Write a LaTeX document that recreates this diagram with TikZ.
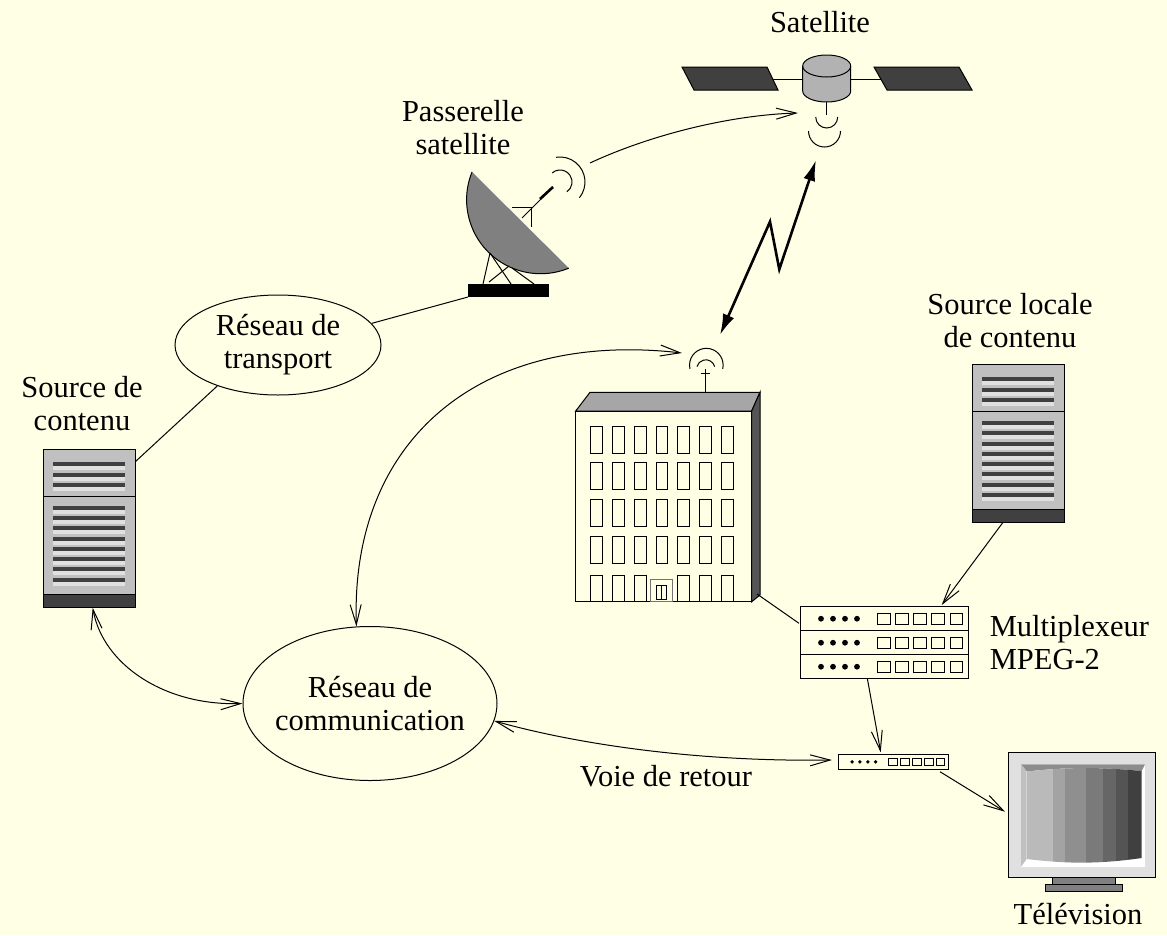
\documentclass[tikz,border=0pt]{standalone}
\usepackage{fontspec}
\setmainfont{Liberation Serif}
\usetikzlibrary{arrows.meta,shapes.geometric}

\definecolor{fond}{RGB}{255,255,230}
\definecolor{grisfonce}{RGB}{64,64,64}
\definecolor{grisclair}{RGB}{224,224,224}
\definecolor{grisboitier}{RGB}{192,192,192}
\definecolor{grissat}{RGB}{178,178,178}
\definecolor{grisparab}{RGB}{128,128,128}
\definecolor{gristoit}{RGB}{166,166,166}
\definecolor{grismur}{RGB}{85,85,85}

\tikzset{
  fleche/.style={-{Straight Barb[length=20pt,width=11pt]}},
  dfleche/.style={{Straight Barb[length=20pt,width=11pt]}-{Straight Barb[length=20pt,width=11pt]}},
  radio/.style={line width=2.6pt,{Latex[length=21pt,width=12pt]}-{Latex[length=21pt,width=12pt]}},
  reseau/.style={ellipse,draw,align=center,inner ysep=0pt},
  % serveur vu de face, coin haut gauche en (0,0)
  serveur/.pic={
    \filldraw[fill=grisboitier] (0,0) rectangle (92,-158.5);
    \draw (0,-47) -- (92,-47);
    \foreach \y in {13,23.5,34,56.7,67,77.2,87.5,97.7,108,118.2,128.5} {
      \fill[grisfonce] (9.5,-\y) rectangle (81.5,-\y-4);
      \fill[grisclair] (9.5,-\y-4) rectangle (81.5,-\y-8);
    }
    \filldraw[fill=grisfonce] (0,-145) rectangle (92,-158.5);
  },
  % un tiroir du multiplexeur
  tiroir/.pic={
    \draw (0,0) rectangle (168.3,-24);
    \foreach \i in {0,...,3}
      \fill (21+12*\i,-12) circle (2.9);
    \foreach \i in {0,...,4}
      \draw (77.3+18.2*\i,-6.3) rectangle +(12.7,-11.7);
  },
}

\begin{document}
\begin{tikzpicture}[x=1pt,y=1pt,line width=1pt,font=\fontsize{30.5}{33}\selectfont]
\useasboundingbox[fill=fond] (0,0) rectangle (1167,-935);

% points d'attache
\coordinate (srcGport) at (135.3,-461.7);
\coordinate (srcGpied) at (92.7,-607.7);
\coordinate (srcLpied) at (1002.7,-522.7);
\coordinate (muxHaut) at (941.7,-605);
\coordinate (muxGauche) at (799,-623.3);
\coordinate (muxBas) at (867.3,-678.3);
\coordinate (stbHaut) at (880.7,-752.3);
\coordinate (stbGauche) at (832,-760);
\coordinate (stbDroite) at (940,-771.7);
\coordinate (tvGauche) at (1005,-811.7);
\coordinate (immCoin) at (757,-594);
\coordinate (immAntenne) at (682,-353);
\coordinate (immRadio) at (720,-335);
\coordinate (socle) at (468,-297);
\coordinate (parabOnde) at (590,-163);
\coordinate (satRecep) at (798,-113);
\coordinate (satRadio) at (816,-160);

% satellite
\draw (772.5,-79) -- (880.5,-79);
\filldraw[fill=grisfonce] (682,-67) -- (767,-67) -- (778,-90) -- (694,-90) -- cycle;
\filldraw[fill=grisfonce] (874,-67) -- (959,-67) -- (972,-90) -- (887,-90) -- cycle;
\filldraw[fill=grissat] (802.7,-66) -- (802.7,-91) arc[start angle=180,end angle=360,x radius=24,y radius=11]
  -- (850.7,-66) arc[start angle=0,end angle=180,x radius=24,y radius=11] -- cycle;
\draw (802.7,-66) arc[start angle=180,end angle=360,x radius=24,y radius=11];
\draw (826.7,-102) -- (826.7,-115);
\draw (815.7,-117) arc[start angle=180,end angle=360,radius=11];
\draw (808.5,-131) arc[start angle=180,end angle=360,radius=16];
\node (lblSat) at (820,-22) {Satellite};

% passerelle satellite
\fill[grisparab] (472,-172) arc[start angle=158,end angle=292.4,radius=74] -- cycle;
\draw (472,-172) arc[start angle=158,end angle=292.4,radius=74];
\draw (512,-207) -- (531,-207) -- (531,-227);
\draw (522,-218) -- (553,-187);
\draw[line width=2.6pt] (540,-199) -- (553,-187);
\draw (490,-253) -- (483,-284);
\draw (490,-253) -- (511,-284);
\draw (509,-266) -- (489,-282);
\draw (512,-268) -- (534,-284);
\fill (468,-284) rectangle (549,-297);
\draw (566.9,-191.8) arc[start angle=-55,end angle=131,radius=12];
\draw (579.4,-197.7) arc[start angle=-39,end angle=99,radius=25];
\node[align=center] (lblPass) at (463,-128) {Passerelle\\satellite};

% immeuble
\filldraw[fill=gristoit] (575.7,-411) -- (590,-392.3) -- (760,-392.3) -- (751.7,-411) -- cycle;
\filldraw[fill=grismur] (751.7,-411) -- (760,-392.3) -- (760,-595) -- (751.7,-601.7) -- cycle;
\draw (575.7,-411) rectangle (751.7,-601.7);
\foreach \i in {0,...,6}
  \foreach \j in {0,...,3}
    \draw[line width=0.9pt] (590.7+21.8*\i,-426-36.7*\j) rectangle +(11.7,-27);
\foreach \i in {0,1,2,4,5,6}
  \draw[line width=0.9pt] (590.7+21.8*\i,-575.7) rectangle (602.4+21.8*\i,-601.7);
\draw[black!55,line width=1.3pt] (650.7,-579.3) rectangle (672.7,-601.7);
\draw[line width=0.9pt] (656.7,-585) rectangle (666,-599.3);
\draw[line width=0.9pt] (661.3,-585) -- (661.3,-599.3);
\draw (705,-392.3) -- (705,-369);
\draw (700.7,-373.3) -- (710,-373.3);
\draw (714.7,-366.6) arc[start angle=15,end angle=165,radius=9.2];
\draw (722.7,-368.9) arc[start angle=-13,end angle=193,radius=16.8];

% serveurs
\pic at (43.3,-449) {serveur};
\pic at (972.3,-364.3) {serveur};
\node[align=center] (lblSrcG) at (82,-404) {Source de\\contenu};
\node[align=center] (lblSrcL) at (1010,-321) {Source locale\\de contenu};

% multiplexeur et decodeur
\pic at (800,-606.7) {tiroir};
\pic at (800,-630.7) {tiroir};
\pic at (800,-654.7) {tiroir};
\pic[scale=0.655] at (838.3,-754) {tiroir};
\node[anchor=west,align=left] (lblMux) at (986,-643) {Multiplexeur\\MPEG-2};

% televiseur
\filldraw[fill=grisclair] (1008.3,-752.3) rectangle (1155,-877.7);
\fill[white] (1021,-764.3) rectangle (1145,-866.7);
\fill[grisparab!90] (1021,-764.3) -- (1145,-764.3) -- (1141.7,-771)
  .. controls (1100,-767) and (1068,-767) .. (1026.7,-771.5) -- cycle;
\fill[grisboitier] (1021,-764.3) -- (1026.7,-771.5) -- (1026.7,-859) -- (1021,-866.7) -- cycle;
\begin{scope}
  \clip (1026.7,-771.5) .. controls (1068,-767) and (1100,-767) .. (1141.7,-771)
    -- (1141.7,-858) .. controls (1100,-864) and (1068,-864) .. (1026.7,-859) -- cycle;
  \fill[black!27] (1026.7,-760) rectangle (1053.3,-870);
  \fill[black!36] (1053.3,-760) rectangle (1065,-870);
  \fill[black!44] (1065,-760) rectangle (1085.7,-870);
  \fill[black!52] (1085.7,-760) rectangle (1103.3,-870);
  \fill[black!60] (1103.3,-760) rectangle (1116,-870);
  \fill[black!67] (1116,-760) rectangle (1127.7,-870);
  \fill[black!75] (1127.7,-760) rectangle (1141.7,-870);
\end{scope}
\filldraw[fill=grisparab] (1052.3,-877.7) rectangle (1115.7,-884);
\filldraw[fill=grisparab] (1045.7,-884) rectangle (1122.3,-891.7);
\node (lblTv) at (1078,-914) {Télévision};

% reseaux
\node[reseau,inner xsep=0pt,minimum width=206pt,minimum height=100pt] (transport) at (278,-345) {Réseau de\\transport};
\node[reseau,inner xsep=-16pt,minimum width=254pt,minimum height=154pt] (comm) at (370,-703.5) {Réseau de\\communication};

% liaisons
\draw (transport.13) -- (socle);
\draw (transport.214) -- (srcGport);
\draw[fleche] (parabOnde) .. controls (650,-135) and (730,-115) .. (satRecep);
\draw[radio] (immRadio) -- (770,-221.7) -- (779.3,-269.3) -- (satRadio);
\draw[dfleche] (srcGpied) .. controls (103,-665) and (165,-706) .. (comm.west);
\draw[dfleche] (comm.100) .. controls (350,-440) and (480,-330) .. (immAntenne);
\draw[dfleche] (comm.-8) .. controls (580,-745) and (700,-762) .. (stbGauche);
\node (lblRetour) at (666,-776) {Voie de retour};
\draw (immCoin) -- (muxGauche);
\draw[fleche] (srcLpied) -- (muxHaut);
\draw[fleche] (muxBas) -- (stbHaut);
\draw[fleche] (stbDroite) -- (tvGauche);
\end{tikzpicture}
\end{document}
